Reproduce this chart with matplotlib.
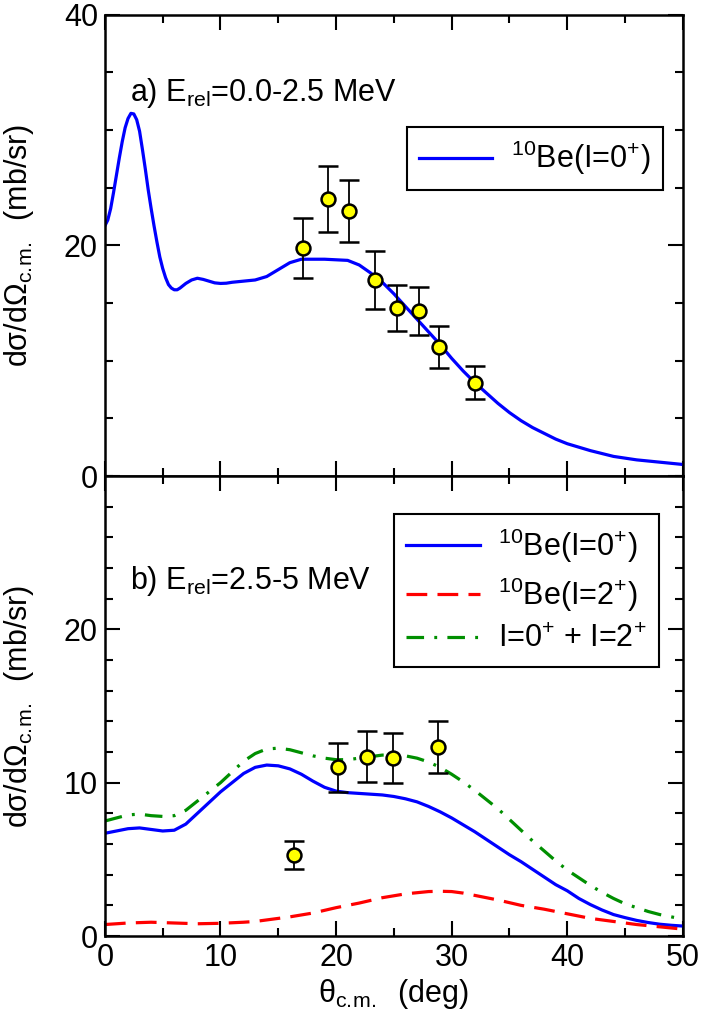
import matplotlib
matplotlib.use('Agg')
import matplotlib.pyplot as plt
from matplotlib.ticker import MultipleLocator

plt.rcParams['font.family'] = ['Liberation Sans', 'DejaVu Sans']
plt.rcParams['mathtext.fontset'] = 'custom'
plt.rcParams['mathtext.rm'] = 'Liberation Sans'
plt.rcParams['mathtext.it'] = 'Liberation Sans:italic'
plt.rcParams['mathtext.bf'] = 'Liberation Sans:bold'

## panel a) E_rel = 0.0-2.5 MeV
theta_a = [0, 0.25, 0.5, 0.75, 1.0, 1.25, 1.5, 1.75, 2.0, 2.25, 2.5, 2.75, 3.0, 3.25,
           3.5, 3.75, 4.0, 4.25, 4.5, 4.75, 5.0, 5.25, 5.5, 5.75, 6.0, 6.25, 6.5,
           7.0, 7.5, 8.0, 8.5, 9.0, 9.5, 10, 10.5, 11, 12, 13, 14, 15, 16, 17, 18,
           19, 20, 21, 22, 23, 24, 25, 26, 27, 28, 29, 30, 31, 32, 33, 34, 35, 36,
           37, 38, 39, 40, 42, 44, 46, 48, 50]
be0_a = [21.7, 22.2, 23.2, 24.6, 26.1, 27.6, 29.0, 30.2, 31.0, 31.45, 31.4, 30.9,
         29.9, 28.3, 26.6, 24.8, 23.2, 21.7, 20.3, 19.0, 18.0, 17.2, 16.6, 16.3,
         16.15, 16.15, 16.3, 16.7, 17.0, 17.15, 17.05, 16.9, 16.75, 16.7, 16.72,
         16.8, 16.9, 17.0, 17.3, 17.9, 18.5, 18.8, 18.8, 18.8, 18.75, 18.7, 18.3,
         17.6, 16.8, 15.8, 14.7, 13.6, 12.5, 11.4, 10.2, 9.1, 8.1, 7.2, 6.3, 5.5,
         4.8, 4.2, 3.7, 3.2, 2.8, 2.2, 1.7, 1.4, 1.2, 1.0]
exp_theta_a = [17.1, 19.3, 21.1, 23.4, 25.3, 27.2, 28.9, 32.0]
exp_xs_a = [19.8, 24.0, 23.0, 17.0, 14.6, 14.3, 11.2, 8.1]
exp_err_a = [2.6, 2.85, 2.7, 2.5, 2.0, 2.1, 1.8, 1.4]

## panel b) E_rel = 2.5-5 MeV
theta_b = list(range(0, 51))
be0_b = [6.7, 6.85, 7.0, 7.05, 6.95, 6.85, 6.9, 7.3, 8.0, 8.7, 9.4, 10.0, 10.6,
         11.0, 11.15, 11.1, 10.9, 10.55, 10.1, 9.7, 9.45, 9.35, 9.3, 9.25, 9.2,
         9.1, 8.95, 8.75, 8.45, 8.1, 7.7, 7.25, 6.8, 6.3, 5.8, 5.3, 4.85, 4.35,
         3.85, 3.35, 2.95, 2.45, 2.05, 1.7, 1.4, 1.2, 1.02, 0.88, 0.77, 0.7, 0.65]
sum_b = [7.5, 7.7, 7.9, 7.95, 7.85, 7.8, 7.85, 8.2, 8.8, 9.4, 10.0, 10.7, 11.4,
         11.9, 12.2, 12.25, 12.15, 11.95, 11.75, 11.6, 11.5, 11.5, 11.6, 11.7,
         11.8, 11.8, 11.75, 11.6, 11.35, 11.0, 10.55, 10.05, 9.5, 8.9, 8.3, 7.6,
         6.9, 6.2, 5.55, 4.9, 4.3, 3.8, 3.3, 2.85, 2.45, 2.1, 1.85, 1.6, 1.4,
         1.25, 1.1]
theta_b2 = [0, 2, 4, 6, 8, 10, 12, 13, 14, 16, 18, 20, 22, 24, 26, 28, 29, 30, 31,
            32, 34, 36, 38, 40, 42, 44, 46, 48, 50]
be2_b = [0.75, 0.85, 0.9, 0.85, 0.8, 0.83, 0.9, 0.95, 1.05, 1.25, 1.5, 1.85,
         2.15, 2.5, 2.75, 2.9, 2.92, 2.9, 2.8, 2.65, 2.35, 2.0, 1.75, 1.45, 1.15,
         0.95, 0.75, 0.6, 0.45]
exp_theta_b = [16.35, 20.2, 22.7, 24.9, 28.8]
exp_xs_b = [5.3, 11.0, 11.7, 11.6, 12.3]
exp_err_b = [0.9, 1.6, 1.65, 1.65, 1.7]

blue = '#0000ff'
red = '#ff0000'
green = '#008f00'
FS = 22

fig = plt.figure(figsize=(7.04, 10.25), dpi=100)
axA = fig.add_axes([0.149, 0.5356, 0.821, 0.45])
axB = fig.add_axes([0.149, 0.0868, 0.821, 0.4488])

def style_axes(ax):
    ax.tick_params(which='both', direction='in', top=True, right=True, labelsize=FS, width=1.5)
    ax.tick_params(which='major', length=11)
    ax.tick_params(which='minor', length=5.5)
    ax.tick_params(axis='x', pad=5)
    ax.tick_params(axis='y', pad=5)
    for s in ax.spines.values():
        s.set_linewidth(1.8)
    ax.set_xlim(0, 50)
    ax.xaxis.set_major_locator(MultipleLocator(10))
    ax.xaxis.set_minor_locator(MultipleLocator(5))
    ax.set_ylabel(r'dσ/dΩ$_{\rm c.\!m.}$  (mb/sr)', fontsize=FS, labelpad=20)

def draw_data(ax, x, y, e):
    ax.errorbar(x, y, yerr=e, fmt='o', color='black', ecolor='black', elinewidth=1.3,
                capsize=7, capthick=1.5, markersize=10, markerfacecolor='#ffff00',
                markeredgecolor='black', markeredgewidth=1.8, zorder=5)

def add_legend(ax, anchor, spacing):
    leg = ax.legend(loc='upper right', bbox_to_anchor=anchor, borderaxespad=0,
                    fontsize=FS, frameon=True, fancybox=False, framealpha=1,
                    edgecolor='black', handlelength=2.4, borderpad=0.4,
                    handletextpad=0.6, labelspacing=spacing)
    leg.get_frame().set_linewidth(1.5)

# top panel
style_axes(axA)
axA.plot(theta_a, be0_a, color=blue, lw=2.3, label=r'$^{10}$Be(I=0$^{+}$)')
draw_data(axA, exp_theta_a, exp_xs_a, exp_err_a)
axA.set_ylim(0, 40)
axA.yaxis.set_major_locator(MultipleLocator(20))
axA.yaxis.set_minor_locator(MultipleLocator(5))
axA.tick_params(axis='x', labelbottom=False)
axA.text(2.2, 32.5, r'a) E$_{\rm rel}$=0.0-2.5 MeV', fontsize=FS)
add_legend(axA, (0.965, 0.757), 0.35)

# bottom panel
style_axes(axB)
axB.plot(theta_b, be0_b, color=blue, lw=2.3, label=r'$^{10}$Be(I=0$^{+}$)')
axB.plot(theta_b2, be2_b, color=red, lw=2.3, dashes=(6.5, 3.2), label=r'$^{10}$Be(I=2$^{+}$)')
axB.plot(theta_b, sum_b, color=green, lw=2.3, dashes=(5.5, 3.2, 0.9, 3.2),
         label=r'I=0$^{+}$ + I=2$^{+}$')
draw_data(axB, exp_theta_b, exp_xs_b, exp_err_b)
axB.set_ylim(0, 30)
axB.set_yticks([0, 10, 20])
axB.yaxis.set_minor_locator(MultipleLocator(2))
axB.text(2.2, 22.6, r'b) E$_{\rm rel}$=2.5-5 MeV', fontsize=FS)
add_legend(axB, (0.958, 0.917), 0.35)
axB.set_xlabel(r'θ$_{\rm c.\!m.}$  (deg)', fontsize=FS, labelpad=3)

fig.savefig('out.png', dpi=100)
